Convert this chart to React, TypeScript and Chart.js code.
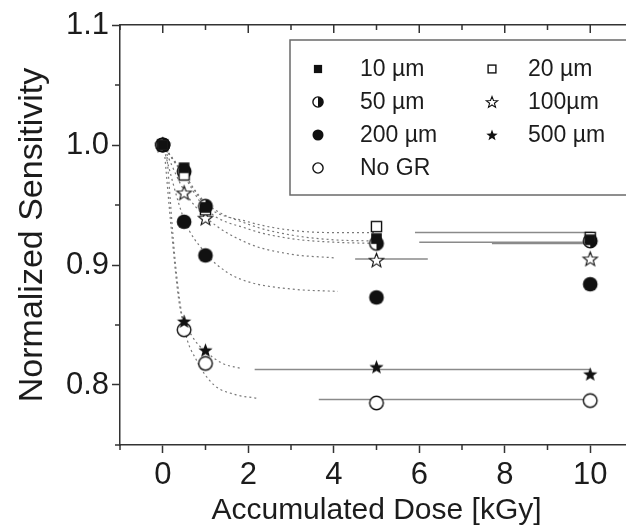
import React, { useEffect, useRef } from 'react';
import { Chart, registerables } from 'chart.js';

Chart.register(...registerables);

// ---- data ----
const DOSE = [0, 0.5, 1, 5, 10];
const S_10UM = [1.0, 0.981, 0.948, 0.922, 0.921];
const S_20UM = [1.0, 0.975, 0.946, 0.932, 0.923];
const S_50UM = [1.0, 0.978, 0.949, 0.918, 0.920];
const S_100UM = [1.0, 0.960, 0.939, 0.904, 0.905];
const S_200UM = [1.0, 0.936, 0.908, 0.873, 0.884];
const S_500UM = [1.0, 0.853, 0.829, 0.815, 0.809];
const S_NOGR = [1.0, 0.846, 0.818, 0.785, 0.787];

const SERIES_LABELS = ['10 µm', '20 µm', '50 µm', '100µm', '200 µm', '500 µm', 'No GR'];
const SERIES_MARKERS = ['squareFilled', 'squareOpen', 'circleHalf', 'starOpen', 'circleFilled', 'starFilled', 'circleOpen'];

// fitted curves
const FIT_10_X = [0, 0.5, 1, 2, 3, 4, 5];
const FIT_10_Y = [1.0, 0.975, 0.952, 0.934, 0.925, 0.921, 0.920];
const FIT_20_X = [0, 0.5, 1, 2, 3, 4, 5];
const FIT_20_Y = [1.0, 0.976, 0.950, 0.936, 0.929, 0.927, 0.927];
const FIT_50_X = [0, 0.5, 1, 2, 3, 4, 5];
const FIT_50_Y = [1.0, 0.974, 0.947, 0.930, 0.922, 0.919, 0.918];
const FIT_100_X = [0, 0.5, 1, 2, 3, 4];
const FIT_100_Y = [1.0, 0.962, 0.940, 0.918, 0.909, 0.906];
const FIT_200_X = [0, 0.5, 1, 1.5, 2, 3, 4.1];
const FIT_200_Y = [1.0, 0.938, 0.910, 0.894, 0.886, 0.880, 0.878];
const FIT_500_X = [0.05, 0.2, 0.4, 0.7, 1, 1.4, 1.8];
const FIT_500_Y = [0.99, 0.93, 0.865, 0.84, 0.828, 0.818, 0.814];
const FIT_NOGR_X = [0.1, 0.3, 0.5, 0.8, 1.2, 1.7, 2.2];
const FIT_NOGR_Y = [0.99, 0.90, 0.848, 0.82, 0.80, 0.792, 0.789];

// asymptote segments
const ASYM_10_X = [6.0, 10.1];
const ASYM_10_Y = [0.919, 0.919];
const ASYM_20_X = [5.9, 10.05];
const ASYM_20_Y = [0.927, 0.927];
const ASYM_50_X = [7.7, 10.1];
const ASYM_50_Y = [0.918, 0.918];
const ASYM_100_X = [4.5, 6.2];
const ASYM_100_Y = [0.905, 0.905];
const ASYM_500_X = [2.15, 10.0];
const ASYM_500_Y = [0.813, 0.813];
const ASYM_NOGR_X = [3.65, 10.0];
const ASYM_NOGR_Y = [0.788, 0.788];

const X_TICKS = [0, 2, 4, 6, 8, 10];
const X_MINOR = [-1, 1, 3, 5, 7, 9];
const Y_TICKS = [0.8, 0.9, 1.0, 1.1];
const Y_MINOR = [0.75, 0.85, 0.95, 1.05];

const FONT = '"Liberation Sans", Arial, sans-serif';
const INK = '#1c1c1c';
const FIT_GRAY = '#7a7a7a';

function makeMarker(kind: string, size: number): HTMLCanvasElement {
  const pad = 2;
  const W = Math.ceil(size + pad * 2);
  const c = document.createElement('canvas');
  c.width = W;
  c.height = W;
  const g = c.getContext('2d') as CanvasRenderingContext2D;
  const m = W / 2;
  const r = size / 2;
  g.lineWidth = 1.4;
  g.strokeStyle = '#111';
  g.fillStyle = '#111';
  const star = () => {
    g.beginPath();
    for (let i = 0; i < 10; i++) {
      const rr = i % 2 === 0 ? r : r * 0.42;
      const a = -Math.PI / 2 + (i * Math.PI) / 5;
      const px = m + rr * Math.cos(a);
      const py = m + 0.5 + rr * Math.sin(a);
      if (i === 0) g.moveTo(px, py);
      else g.lineTo(px, py);
    }
    g.closePath();
  };
  switch (kind) {
    case 'squareFilled': {
      const h = r * 0.82;
      g.fillRect(m - h, m - h, 2 * h, 2 * h);
      break;
    }
    case 'squareOpen': {
      const h = r * 0.78;
      g.fillStyle = '#fff';
      g.fillRect(m - h, m - h, 2 * h, 2 * h);
      g.strokeRect(m - h, m - h, 2 * h, 2 * h);
      break;
    }
    case 'circleFilled':
      g.beginPath();
      g.arc(m, m, r * 0.92, 0, Math.PI * 2);
      g.fill();
      break;
    case 'circleOpen':
      g.beginPath();
      g.arc(m, m, r * 0.85, 0, Math.PI * 2);
      g.fillStyle = '#fff';
      g.fill();
      g.stroke();
      break;
    case 'circleHalf':
      g.beginPath();
      g.arc(m, m, r * 0.85, 0, Math.PI * 2);
      g.fillStyle = '#fff';
      g.fill();
      g.beginPath();
      g.moveTo(m, m - r * 0.85);
      g.arc(m, m, r * 0.85, -Math.PI / 2, Math.PI / 2);
      g.closePath();
      g.fillStyle = '#111';
      g.fill();
      g.beginPath();
      g.arc(m, m, r * 0.85, 0, Math.PI * 2);
      g.stroke();
      break;
    case 'starFilled':
      star();
      g.fill();
      break;
    case 'starOpen':
      star();
      g.fillStyle = '#fff';
      g.fill();
      g.lineWidth = 1.1;
      g.stroke();
      break;
  }
  return c;
}

const axisDecor = {
  id: 'axisDecor',
  afterDraw(chart: any) {
    const { ctx, chartArea: ca, scales } = chart;
    const xs = scales.x;
    const ys = scales.y;
    ctx.save();
    ctx.strokeStyle = '#333';
    ctx.lineWidth = 1.5;
    ctx.beginPath();
    X_MINOR.forEach((v) => {
      const px = xs.getPixelForValue(v);
      ctx.moveTo(px, ca.bottom);
      ctx.lineTo(px, ca.bottom + 5);
      ctx.moveTo(px, ca.top);
      ctx.lineTo(px, ca.top + 5);
    });
    X_TICKS.forEach((v) => {
      const px = xs.getPixelForValue(v);
      ctx.moveTo(px, ca.top);
      ctx.lineTo(px, ca.top + 8);
    });
    Y_MINOR.forEach((v) => {
      const py = ys.getPixelForValue(v);
      ctx.moveTo(ca.left, py);
      ctx.lineTo(ca.left - 5, py);
    });
    ctx.stroke();
    ctx.restore();
  },
};

const boxLegend = {
  id: 'boxLegend',
  afterDraw(chart: any) {
    const { ctx, chartArea: ca } = chart;
    const items = chart.data.datasets.filter((d: any) => d.isSeries);
    const left = ca.left + 170;
    const top = ca.top + 15;
    const height = 155;
    ctx.save();
    ctx.strokeStyle = '#6a6a6a';
    ctx.lineWidth = 1.5;
    ctx.strokeRect(left, top, 400, height);
    ctx.font = `23px ${FONT}`;
    ctx.fillStyle = INK;
    ctx.textBaseline = 'middle';
    ctx.textAlign = 'left';
    items.forEach((d: any, i: number) => {
      const row = Math.floor(i / 2);
      const col = i % 2;
      const cy = top + 29 + row * 33;
      const sx = left + (col === 0 ? 28 : 202);
      const tx = left + (col === 0 ? 70 : 238);
      const img = d.legendMarker as HTMLCanvasElement;
      ctx.drawImage(img, Math.round(sx - img.width / 2), Math.round(cy - img.height / 2));
      ctx.fillText(d.label, tx, cy + 1);
    });
    ctx.restore();
  },
};

export default function App() {
  const ref = useRef<HTMLCanvasElement | null>(null);

  useEffect(() => {
    const canvas = ref.current;
    if (!canvas) return;

    const seriesY = [S_10UM, S_20UM, S_50UM, S_100UM, S_200UM, S_500UM, S_NOGR];
    const fits: [number[], number[]][] = [
      [FIT_10_X, FIT_10_Y],
      [FIT_20_X, FIT_20_Y],
      [FIT_50_X, FIT_50_Y],
      [FIT_100_X, FIT_100_Y],
      [FIT_200_X, FIT_200_Y],
      [FIT_500_X, FIT_500_Y],
      [FIT_NOGR_X, FIT_NOGR_Y],
    ];
    const asyms: [number[], number[]][] = [
      [ASYM_10_X, ASYM_10_Y],
      [ASYM_20_X, ASYM_20_Y],
      [ASYM_50_X, ASYM_50_Y],
      [ASYM_100_X, ASYM_100_Y],
      [ASYM_500_X, ASYM_500_Y],
      [ASYM_NOGR_X, ASYM_NOGR_Y],
    ];

    const toPts = (xs: number[], ys: number[]) => xs.map((x, i) => ({ x, y: ys[i] }));

    const fitSets = fits.map(([fx, fy]) => ({
      label: 'fit',
      data: toPts(fx, fy),
      showLine: true,
      borderColor: FIT_GRAY,
      borderWidth: 1.2,
      borderDash: [2, 3],
      pointRadius: 0,
      cubicInterpolationMode: 'monotone',
      order: 3,
    }));
    const asymSets = asyms.map(([ax, ay]) => ({
      label: 'asym',
      data: toPts(ax, ay),
      showLine: true,
      borderColor: '#8a8a8a',
      borderWidth: 1.5,
      pointRadius: 0,
      order: 2,
    }));
    const plotSize = (k: string) => (k.startsWith('square') ? 13 : k.startsWith('star') ? 15 : 16);
    const legendSize = (k: string) => (k.startsWith('square') ? 10 : 12);
    const seriesSets = seriesY.map((ys, i) => ({
      label: SERIES_LABELS[i],
      isSeries: true,
      data: toPts(DOSE, ys),
      showLine: false,
      pointStyle: makeMarker(SERIES_MARKERS[i], plotSize(SERIES_MARKERS[i])),
      legendMarker: makeMarker(SERIES_MARKERS[i], legendSize(SERIES_MARKERS[i])),
      pointRadius: 6,
      order: 1,
    }));

    const chart = new Chart(canvas, {
      type: 'scatter',
      data: { datasets: [...seriesSets, ...asymSets, ...fitSets] as any },
      plugins: [axisDecor, boxLegend],
      options: {
        animation: false,
        responsive: false,
        events: [],
        layout: { padding: { left: 0, right: 7, top: 0, bottom: 0 } },
        plugins: { legend: { display: false }, tooltip: { enabled: false } },
        scales: {
          x: {
            type: 'linear',
            position: 'bottom',
            min: -1,
            max: 11,
            afterBuildTicks: (s: any) => {
              s.ticks = X_TICKS.map((v) => ({ value: v }));
            },
            afterFit: (s: any) => {
              s.height = 84;
            },
            ticks: {
              color: INK,
              font: { family: FONT, size: 31 },
              padding: 4,
              maxRotation: 0,
              callback: (v: any) => String(v),
            },
            grid: { drawOnChartArea: false, drawTicks: true, tickLength: 8, color: '#333', tickWidth: 1.5 },
            border: { color: '#333', width: 1.5 },
            title: {
              display: true,
              text: 'Accumulated Dose [kGy]',
              color: INK,
              font: { family: FONT, size: 30 },
              padding: { top: 0, bottom: 0 },
            },
          },
          x2: {
            type: 'linear',
            position: 'top',
            min: -1,
            max: 11,
            afterFit: (s: any) => {
              s.height = 25;
            },
            ticks: { display: false },
            grid: { drawOnChartArea: false, drawTicks: false },
            border: { color: '#333', width: 1.5 },
          },
          y: {
            type: 'linear',
            position: 'left',
            min: 0.75,
            max: 1.1,
            afterBuildTicks: (s: any) => {
              s.ticks = Y_TICKS.map((v) => ({ value: v }));
            },
            afterFit: (s: any) => {
              s.width = 120;
            },
            ticks: {
              color: INK,
              font: { family: FONT, size: 31 },
              padding: 3,
              callback: (v: any) => Number(v).toFixed(1),
            },
            grid: { drawOnChartArea: false, drawTicks: true, tickLength: 8, color: '#333', tickWidth: 1.5 },
            border: { color: '#333', width: 1.5 },
            title: {
              display: true,
              text: 'Normalized Sensitivity',
              color: INK,
              font: { family: FONT, size: 34 },
              padding: { top: 12, bottom: 0 },
            },
          },
        },
      } as any,
    });

    return () => chart.destroy();
  }, []);

  return (
    <div style={{ position: 'fixed', left: 0, top: 0, width: 626, height: 529, overflow: 'hidden', background: '#fff' }}>
      <canvas ref={ref} width={640} height={529} style={{ display: 'block', width: 640, height: 529 }} />
    </div>
  );
}
